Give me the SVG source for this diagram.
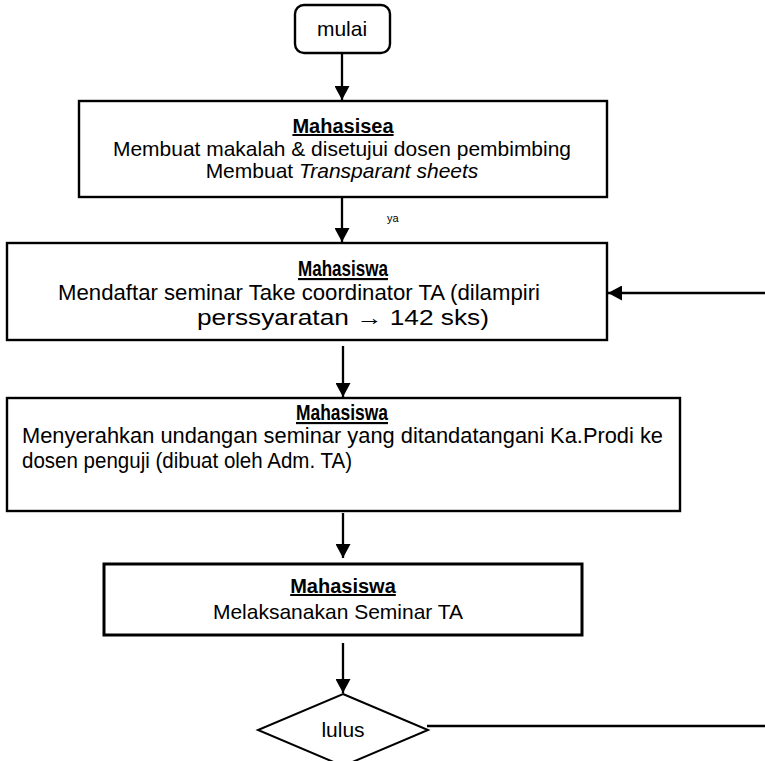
<svg xmlns="http://www.w3.org/2000/svg" width="765" height="761" viewBox="0 0 765 761">
<style>
.box{fill:#fff;stroke:#000;stroke-width:2.4}
.t{font-family:"Liberation Sans",Arial,sans-serif;font-size:20px;fill:#000}
.n{font-size:21.5px}
.h{font-weight:bold;text-decoration:underline}
.c{text-anchor:middle}
.ln{stroke:#000;stroke-width:2.3;fill:none}
</style>
<defs>
<marker id="ah" markerWidth="14" markerHeight="15" refX="14" refY="7.5" orient="auto" markerUnits="userSpaceOnUse">
<path d="M0,0 L14,7.5 L0,15 Z" fill="#000"/>
</marker>
</defs>
<g id="connectors">
<line class="ln" x1="342" y1="53" x2="342" y2="100" marker-end="url(#ah)"/>
<line class="ln" x1="342" y1="197" x2="342" y2="242" marker-end="url(#ah)"/>
<text class="t" x="387" y="222" style="font-size:11px">ya</text>
<line class="ln" x1="765" y1="293" x2="608" y2="293" style="stroke-width:2.6" marker-end="url(#ah)"/>
<line class="ln" x1="343" y1="346" x2="343" y2="397" marker-end="url(#ah)"/>
<line class="ln" x1="343" y1="513" x2="343" y2="558" marker-end="url(#ah)"/>
<line class="ln" x1="343" y1="643" x2="343" y2="693" marker-end="url(#ah)"/>
<line class="ln" x1="427" y1="726" x2="765" y2="726"/>
</g>
<g id="mulai">
<rect class="box" x="295" y="5" width="95" height="48" rx="9"/>
<text class="t c" x="342" y="36" style="font-size:21px">mulai</text>
</g>
<g id="box1">
<rect class="box" x="79" y="101" width="528" height="96"/>
<text class="t c h" x="343" y="133" style="font-size:20px">Mahasisea</text>
<text class="t" x="113" y="156" style="font-size:21px" textLength="458" lengthAdjust="spacingAndGlyphs">Membuat makalah &amp; disetujui dosen pembimbing</text>
<text class="t c" x="342" y="178" style="font-size:21px">Membuat <tspan font-style="italic">Transparant sheets</tspan></text>
</g>
<g id="box2">
<rect class="box" x="7" y="243" width="600" height="97"/>
<text class="t n h" x="298" y="276" textLength="90" lengthAdjust="spacingAndGlyphs">Mahasiswa</text>
<text class="t n" x="58" y="300" textLength="482" lengthAdjust="spacingAndGlyphs">Mendaftar seminar Take coordinator TA (dilampiri</text>
<text class="t n" x="197" y="325" textLength="292" lengthAdjust="spacingAndGlyphs">perssyaratan → 142 sks)</text>
</g>
<g id="box3">
<rect class="box" x="7" y="398" width="673" height="113"/>
<text class="t n h" x="296" y="420" textLength="92" lengthAdjust="spacingAndGlyphs">Mahasiswa</text>
<text class="t n" x="22" y="443" textLength="641" lengthAdjust="spacingAndGlyphs">Menyerahkan undangan seminar yang ditandatangani Ka.Prodi ke</text>
<text class="t n" x="22" y="468" textLength="330" lengthAdjust="spacingAndGlyphs">dosen penguji (dibuat oleh Adm. TA)</text>
</g>
<g id="box4">
<rect class="box" x="104" y="564" width="478" height="71" style="stroke-width:3"/>
<text class="t c h" x="343" y="593" style="font-size:20px">Mahasiswa</text>
<text class="t c" x="338" y="619" style="font-size:21px">Melaksanakan Seminar TA</text>
</g>
<g id="lulus">
<polygon class="box" points="343,694 428,730 343,766 258,730" style="stroke-width:2"/>
<text class="t c" x="343" y="737" style="font-size:21px">lulus</text>
</g>
</svg>
